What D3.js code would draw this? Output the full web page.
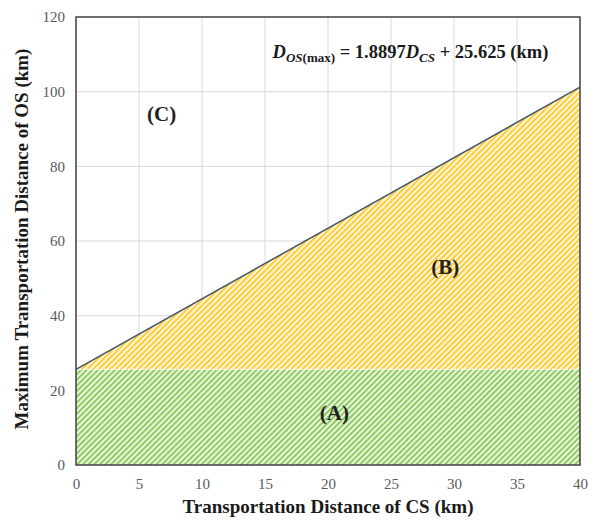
<!DOCTYPE html>
<html>
<head>
<meta charset="utf-8">
<script src="https://cdn.jsdelivr.net/npm/d3@7"></script>
<style>
  body { margin: 0; background: #fff; }
  text { font-family: "Liberation Serif", "Times New Roman", serif; }
</style>
</head>
<body>
<div id="chart"></div>
<script>
// data
var csDist = [0, 40];                 // km, transportation distance of CS
var osMax = [25.625, 101.213];        // km, D_OS(max) = 1.8897 D_CS + 25.625
var baseLevel = [25.625, 25.625];     // top of region (A)
var xTicks = [0, 5, 10, 15, 20, 25, 30, 35, 40];
var yTicks = [0, 20, 40, 60, 80, 100, 120];
var regionLabels = ["(A)", "(B)", "(C)"];
var regionPos = [[20.5, 14], [29.3, 53], [6.8, 94]];

var width = 594, height = 520;
var margin = {top: 17, right: 14, bottom: 55, left: 76};
var w = width - margin.left - margin.right,
    h = height - margin.top - margin.bottom;

var svg = d3.select("#chart").append("svg")
    .attr("width", width)
    .attr("height", height);

var defs = svg.append("defs");
function makeHatch(id, color) {
    var p = defs.append("pattern")
        .attr("id", id)
        .attr("patternUnits", "userSpaceOnUse")
        .attr("width", 4).attr("height", 4)
        .attr("patternTransform", "rotate(45)");
    p.append("rect").attr("width", 4).attr("height", 4).attr("fill", "#fff");
    p.append("rect").attr("width", 2.4).attr("height", 4).attr("fill", color);
}
makeHatch("hatchGreen", "#92cd62");
makeHatch("hatchYellow", "#fecd3c");

var g = svg.append("g")
    .attr("transform", "translate(" + margin.left + "," + margin.top + ")");

var x = d3.scaleLinear().domain([0, 40]).range([0, w]);
var y = d3.scaleLinear().domain([0, 120]).range([h, 0]);

// grid
g.append("g").selectAll("line.gx")
    .data(xTicks.slice(1, -1))
    .enter().append("line")
    .attr("x1", function(d) { return x(d); })
    .attr("x2", function(d) { return x(d); })
    .attr("y1", 0).attr("y2", h)
    .attr("stroke", "#d9d9d9").attr("stroke-width", 1);
g.append("g").selectAll("line.gy")
    .data(yTicks.slice(1, -1))
    .enter().append("line")
    .attr("y1", function(d) { return y(d); })
    .attr("y2", function(d) { return y(d); })
    .attr("x1", 0).attr("x2", w)
    .attr("stroke", "#d9d9d9").attr("stroke-width", 1);

var pts = csDist.map(function(d, i) { return {x: d, top: osMax[i], base: baseLevel[i]}; });

// region (A)
g.append("path")
    .datum(pts)
    .attr("fill", "url(#hatchGreen)")
    .attr("d", d3.area()
        .x(function(d) { return x(d.x); })
        .y0(y(0))
        .y1(function(d) { return y(d.base); }));

// region (B)
g.append("path")
    .datum(pts)
    .attr("fill", "url(#hatchYellow)")
    .attr("d", d3.area()
        .x(function(d) { return x(d.x); })
        .y0(function(d) { return y(d.base); })
        .y1(function(d) { return y(d.top); }));

// white dotted edge between A and B
g.append("path")
    .datum(pts)
    .attr("fill", "none")
    .attr("stroke", "#fff")
    .attr("stroke-width", 1.2)
    .attr("stroke-dasharray", "2,1.5")
    .attr("d", d3.line()
        .x(function(d) { return x(d.x); })
        .y(function(d) { return y(d.base); }));

// D_OS(max) line
g.append("path")
    .datum(pts)
    .attr("fill", "none")
    .attr("stroke", "#44546a")
    .attr("stroke-width", 1.5)
    .attr("d", d3.line()
        .x(function(d) { return x(d.x); })
        .y(function(d) { return y(d.top); }));

// axes
var xAxis = g.append("g")
    .attr("transform", "translate(0," + h + ")")
    .call(d3.axisBottom(x).tickValues(xTicks).tickSize(0).tickPadding(13));
var yAxis = g.append("g")
    .call(d3.axisLeft(y).tickValues(yTicks).tickSize(0).tickPadding(11));
[xAxis, yAxis].forEach(function(a) {
    a.select(".domain").remove();
    a.selectAll("text")
        .attr("fill", "#595959")
        .style("font-size", "15px")
        .style("font-family", "'Liberation Serif', serif");
});

// plot frame
g.append("rect")
    .attr("width", w).attr("height", h)
    .attr("fill", "none")
    .attr("stroke", "#404040")
    .attr("stroke-width", 1.5);

// region labels
g.selectAll("text.region")
    .data(regionLabels)
    .enter().append("text")
    .attr("class", "region")
    .attr("x", function(d, i) { return x(regionPos[i][0]); })
    .attr("y", function(d, i) { return y(regionPos[i][1]); })
    .attr("text-anchor", "middle")
    .attr("dy", "0.35em")
    .style("font-size", "21px")
    .style("font-weight", "bold")
    .attr("fill", "#222")
    .text(function(d) { return d; });

// equation
var eq = g.append("text")
    .attr("x", x(15.6))
    .attr("y", 41)
    .style("font-size", "18.5px")
    .style("font-weight", "bold")
    .attr("fill", "#1a1a1a");
eq.append("tspan").style("font-style", "italic").text("D");
eq.append("tspan").attr("dy", 4).style("font-size", "13px").style("font-style", "italic").text("OS");
eq.append("tspan").style("font-size", "13px").text("(max)");
eq.append("tspan").attr("dy", -4).text(" = 1.8897");
eq.append("tspan").style("font-style", "italic").text("D");
eq.append("tspan").attr("dy", 4).style("font-size", "13px").style("font-style", "italic").text("CS");
eq.append("tspan").attr("dy", -4).text(" + 25.625 (km)");

// axis titles
svg.append("text")
    .attr("x", margin.left + w / 2)
    .attr("y", 513)
    .attr("text-anchor", "middle")
    .style("font-size", "19px")
    .style("font-weight", "bold")
    .attr("fill", "#1a1a1a")
    .text("Transportation Distance of CS (km)");

svg.append("text")
    .attr("transform", "translate(28," + (margin.top + h / 2 - 2) + ") rotate(-90)")
    .attr("text-anchor", "middle")
    .style("font-size", "19px")
    .style("font-weight", "bold")
    .attr("fill", "#1a1a1a")
    .text("Maximum Transportation Distance of OS (km)");
</script>
</body>
</html>
